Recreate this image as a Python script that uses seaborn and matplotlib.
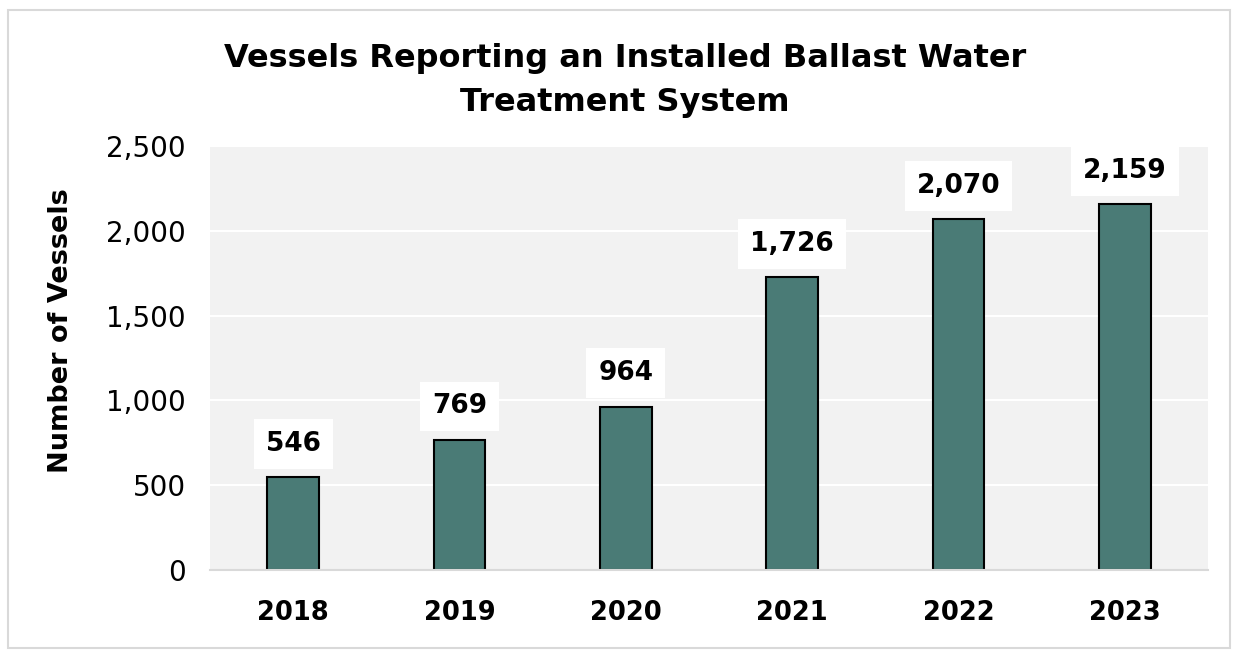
import pandas as pd
import matplotlib.pyplot as plt
import seaborn as sns
from matplotlib.patches import Rectangle

years = ["2018", "2019", "2020", "2021", "2022", "2023"]
vessels = [546, 769, 964, 1726, 2070, 2159]

df = pd.DataFrame({"year": years, "vessels": vessels})

sns.set_style("whitegrid", {"axes.facecolor": "#f2f2f2", "grid.color": "white"})
plt.rcParams["font.family"] = ["DejaVu Sans"]
plt.rcParams["text.color"] = "black"
plt.rcParams["xtick.color"] = "black"
plt.rcParams["ytick.color"] = "black"
plt.rcParams["axes.labelcolor"] = "black"

fig = plt.figure(figsize=(12.38, 6.55), dpi=100)
ax = fig.add_axes([210 / 1238, 85 / 655, 998 / 1238, 424 / 655])

sns.barplot(ax=ax, data=df, x="year", y="vessels", color="#4a7b76",
            saturation=1, width=0.31, edgecolor="black", linewidth=1.5)

# data labels in white boxes
ax.bar_label(ax.containers[0], labels=[f"{v:,}" for v in vessels], padding=14.5,
             fontsize=19, fontweight="bold", color="black",
             bbox=dict(boxstyle="square,pad=0.45", facecolor="white", edgecolor="none"))

ax.set_ylim(0, 2500)
ax.set_yticks([0, 500, 1000, 1500, 2000, 2500])
ax.set_yticklabels([f"{t:,}" for t in [0, 500, 1000, 1500, 2000, 2500]], fontsize=20)
ax.tick_params(axis="x", labelsize=18.5, pad=18)
for lbl in ax.get_xticklabels():
    lbl.set_fontweight("bold")
ax.tick_params(axis="y", pad=14)
ax.grid(axis="x", visible=False)
ax.grid(axis="y", color="white", linewidth=1.5)
ax.set_xlabel("")
ax.set_ylabel("Number of Vessels", fontsize=19.5, fontweight="bold")
ax.yaxis.set_label_coords(-0.136, 0.564)
for s in ["top", "right", "left"]:
    ax.spines[s].set_visible(False)
ax.spines["bottom"].set_color("#d9d9d9")
ax.spines["bottom"].set_linewidth(1.5)

fig.text(0.505, 0.877, "Vessels Reporting an Installed Ballast Water\nTreatment System",
         ha="center", va="center", fontsize=23, fontweight="bold", linespacing=1.55)

# outer chart border
fig.patches.append(Rectangle((8 / 1238, 7 / 655), 1222 / 1238, 638 / 655,
                             transform=fig.transFigure, fill=False,
                             edgecolor="#d9d9d9", linewidth=1.5))

fig.savefig("out.png", dpi=100)
